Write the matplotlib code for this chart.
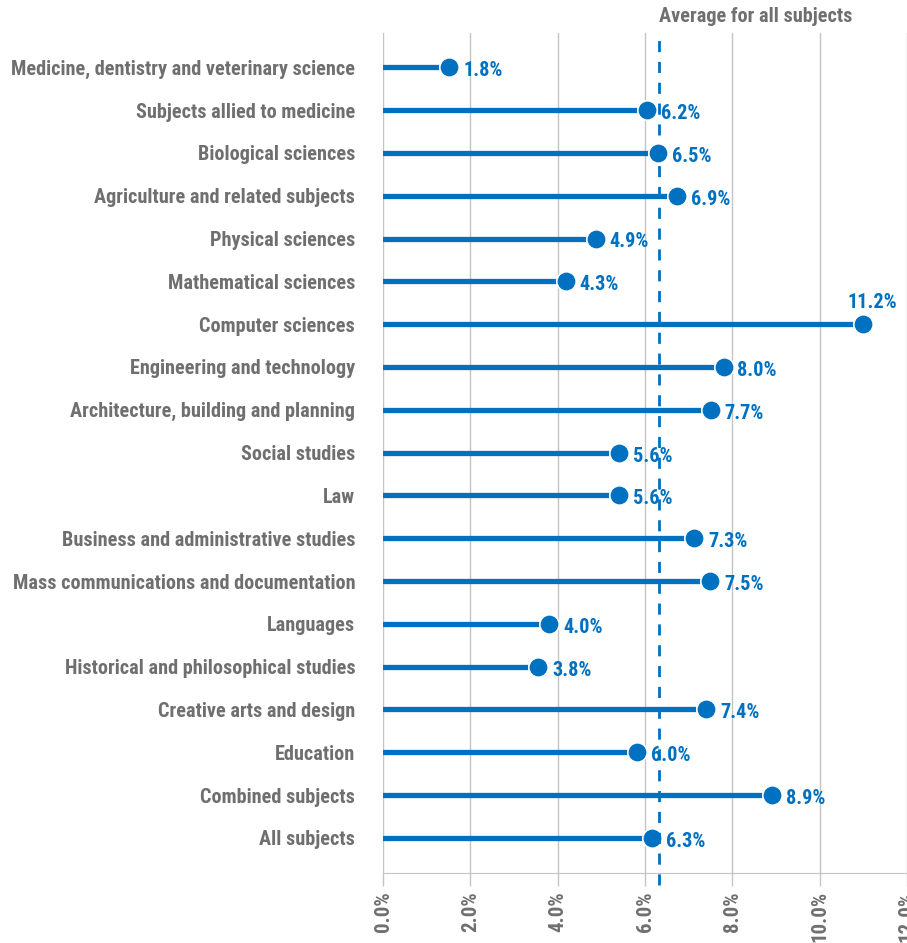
import matplotlib
matplotlib.use("Agg")
import matplotlib.pyplot as plt
from matplotlib.ticker import FuncFormatter

# datos
subjects = [
    "Medicine, dentistry and veterinary science",
    "Subjects allied to medicine",
    "Biological sciences",
    "Agriculture and related subjects",
    "Physical sciences",
    "Mathematical sciences",
    "Computer sciences",
    "Engineering and technology",
    "Architecture, building and planning",
    "Social studies",
    "Law",
    "Business and administrative studies",
    "Mass communications and documentation",
    "Languages",
    "Historical and philosophical studies",
    "Creative arts and design",
    "Education",
    "Combined subjects",
    "All subjects",
]
# posicion de los puntos (%)
values = [1.52, 6.04, 6.29, 6.73, 4.87, 4.19, 10.99, 7.80, 7.50, 5.40,
          5.40, 7.13, 7.49, 3.81, 3.56, 7.40, 5.81, 8.91, 6.16]
# etiquetas tal cual aparecen
value_labels = ["1.8%", "6.2%", "6.5%", "6.9%", "4.9%", "4.3%", "11.2%",
                "8.0%", "7.7%", "5.6%", "5.6%", "7.3%", "7.5%", "4.0%",
                "3.8%", "7.4%", "6.0%", "8.9%", "6.3%"]
average = 6.31
average_label = "Average for all subjects"
xticks = [0, 2, 4, 6, 8, 10, 12]

blue = "#0070C0"
gray = "#6f6f6f"
grid_gray = "#c4c4c4"
fs = 14.6

plt.rcParams["font.family"] = ["Roboto Condensed", "DejaVu Sans"]
plt.rcParams["font.weight"] = "bold"

fig = plt.figure(figsize=(9.07, 9.43), dpi=100)
ax = fig.add_axes([383 / 907, 70 / 943, 524 / 907, 840 / 943])

y = list(range(len(subjects)))
ax.set_xlim(0, 12)
ax.set_ylim(18.82, -0.8)

for xt in xticks:
    ax.axvline(xt, color=grid_gray, lw=1, zorder=0)

ax.hlines(y, 0, values, color=blue, lw=3.8, capstyle="round", zorder=2)
ax.plot(values, y, "o", color=blue, markersize=14, markeredgecolor="white",
        markeredgewidth=1.2, zorder=3, clip_on=False)

for i, (v, lab) in enumerate(zip(values, value_labels)):
    if v > 10:
        ax.annotate(lab, (v, i), xytext=(7, 9), textcoords="offset points",
                    ha="center", va="bottom", color=blue, fontsize=fs,
                    fontweight="bold", annotation_clip=False)
    else:
        ax.annotate(lab, (v, i), xytext=(10, -2.5), textcoords="offset points",
                    ha="left", va="center", color=blue, fontsize=fs,
                    fontweight="bold", annotation_clip=False)

# linea de promedio
ax.plot([average, average], [19.1, -0.8], color=blue, lw=2, ls=(0, (4, 3.5)),
        zorder=4, clip_on=False)
ax.text(average, -0.97, average_label, ha="left", va="bottom", color=gray,
        fontsize=fs, fontweight="bold")

ax.set_yticks(y)
ax.set_yticklabels(subjects, color=gray, fontsize=fs, fontweight="bold")
ax.tick_params(axis="y", length=0, pad=20)

ax.set_xticks(xticks)
ax.xaxis.set_major_formatter(FuncFormatter(lambda v, p: f"{v:.1f}%"))
ax.tick_params(axis="x", length=9, color=grid_gray, width=1, pad=4,
               labelcolor=gray, labelsize=fs + 0.4, labelrotation=90)
for t in ax.get_xticklabels():
    t.set_fontweight("bold")

for s in ["top", "right", "left"]:
    ax.spines[s].set_visible(False)
ax.spines["bottom"].set_color(grid_gray)

fig.savefig("out.png", dpi=100)
